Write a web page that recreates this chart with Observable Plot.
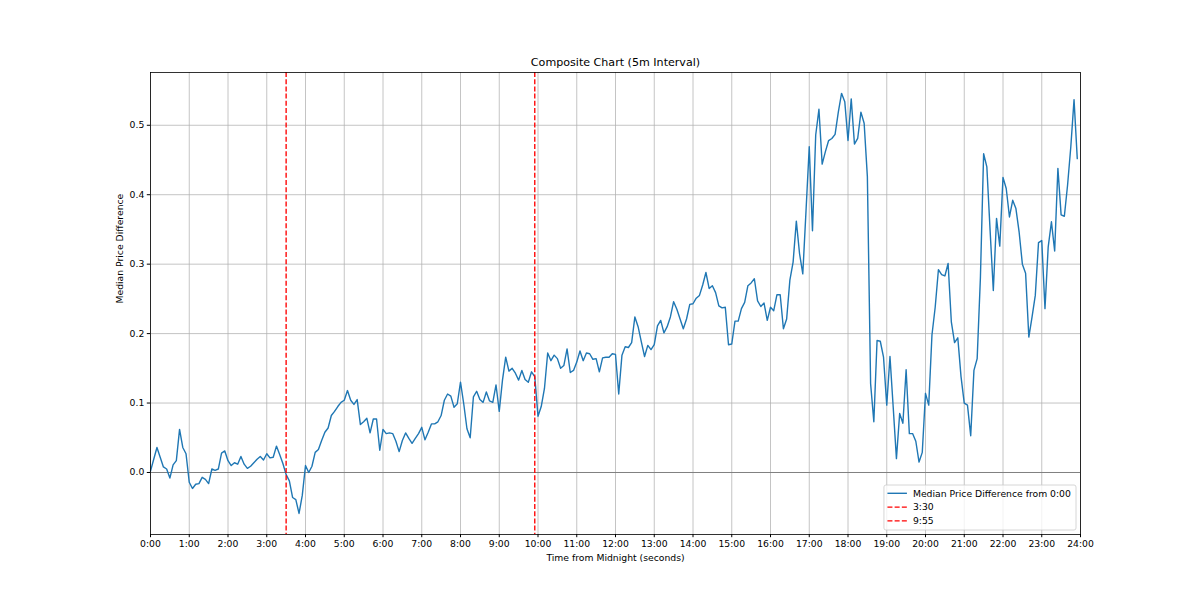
<!DOCTYPE html>
<html>
<head>
<meta charset="utf-8">
<script src="https://cdn.jsdelivr.net/npm/d3@7"></script>
<script src="https://cdn.jsdelivr.net/npm/@observablehq/plot@0.6"></script>
<style>
  html, body { margin: 0; padding: 0; background: white; }
  #chart { width: 1200px; height: 600px; position: relative; }
</style>
</head>
<body>
<div id="chart"></div>
<script>
// Median price difference from 0:00, one value per 5-minute interval (0:00 .. 23:55)
const values = [
  0.002, 0.019, 0.036, 0.022, 0.008, 0.005, -0.008, 0.011, 0.017, 0.062, 0.036, 0.027,
  -0.014, -0.023, -0.017, -0.016, -0.007, -0.010, -0.016, 0.005, 0.003, 0.005, 0.028, 0.031,
  0.017, 0.010, 0.014, 0.012, 0.023, 0.012, 0.006, 0.009, 0.014, 0.019, 0.023, 0.018,
  0.027, 0.021, 0.022, 0.038, 0.026, 0.013, -0.003, -0.012, -0.036, -0.039, -0.059, -0.033,
  0.010, 0.000, 0.009, 0.029, 0.033, 0.046, 0.058, 0.064, 0.082, 0.088, 0.095, 0.101,
  0.104, 0.118, 0.104, 0.098, 0.105, 0.069, 0.073, 0.078, 0.057, 0.077, 0.077, 0.032,
  0.062, 0.056, 0.057, 0.056, 0.045, 0.030, 0.046, 0.057, 0.049, 0.042, 0.049, 0.056,
  0.065, 0.047, 0.058, 0.070, 0.070, 0.073, 0.082, 0.104, 0.113, 0.110, 0.094, 0.099,
  0.130, 0.099, 0.063, 0.050, 0.109, 0.117, 0.105, 0.101, 0.116, 0.103, 0.101, 0.126,
  0.088, 0.133, 0.166, 0.146, 0.150, 0.143, 0.133, 0.147, 0.134, 0.130, 0.145, 0.138,
  0.081, 0.095, 0.121, 0.172, 0.161, 0.169, 0.164, 0.150, 0.154, 0.178, 0.144, 0.147,
  0.159, 0.175, 0.161, 0.172, 0.171, 0.163, 0.164, 0.145, 0.165, 0.166, 0.166, 0.171,
  0.170, 0.113, 0.169, 0.181, 0.180, 0.187, 0.224, 0.210, 0.188, 0.167, 0.183, 0.177,
  0.184, 0.211, 0.219, 0.201, 0.210, 0.224, 0.246, 0.235, 0.221, 0.207, 0.221, 0.242,
  0.243, 0.251, 0.255, 0.270, 0.288, 0.265, 0.269, 0.259, 0.240, 0.237, 0.238, 0.184,
  0.185, 0.218, 0.218, 0.236, 0.245, 0.269, 0.273, 0.279, 0.247, 0.239, 0.244, 0.219,
  0.238, 0.233, 0.256, 0.256, 0.207, 0.221, 0.277, 0.303, 0.362, 0.315, 0.286, 0.377,
  0.469, 0.348, 0.486, 0.523, 0.444, 0.462, 0.478, 0.481, 0.487, 0.519, 0.546, 0.534,
  0.478, 0.538, 0.473, 0.481, 0.519, 0.503, 0.426, 0.128, 0.073, 0.190, 0.189, 0.166,
  0.097, 0.167, 0.094, 0.020, 0.085, 0.071, 0.148, 0.056, 0.056, 0.045, 0.015, 0.029,
  0.114, 0.097, 0.198, 0.238, 0.292, 0.285, 0.283, 0.301, 0.217, 0.187, 0.194, 0.138,
  0.100, 0.097, 0.053, 0.147, 0.164, 0.280, 0.459, 0.440, 0.349, 0.262, 0.366, 0.326,
  0.425, 0.409, 0.368, 0.392, 0.380, 0.346, 0.300, 0.287, 0.195, 0.224, 0.255, 0.331,
  0.334, 0.236, 0.325, 0.361, 0.319, 0.438, 0.371, 0.369, 0.414, 0.469, 0.537, 0.452
];
const intervalSeconds = 300;
const hourTicks = d3.range(0, 24 * 3600 + 1, 3600);
const yTicks = [0, 0.1, 0.2, 0.3, 0.4, 0.5];
const markerTimes = [12600, 35700];
const markerLabels = ["3:30", "9:55"];
const seriesLabel = "Median Price Difference from 0:00";
const titleText = "Composite Chart (5m Interval)";
const xLabel = "Time from Midnight (seconds)";
const yLabel = "Median Price Difference";

const data = values.map((v, i) => ({t: i * intervalSeconds, v}));
const markers = markerTimes.map((t, i) => ({t, label: markerLabels[i]}));

const FONT = "DejaVu Sans, sans-serif";
const fs = 9.25;

const plot = Plot.plot({
  width: 1200,
  height: 600,
  marginLeft: 150,
  marginRight: 120,
  marginTop: 72,
  marginBottom: 66,
  style: {fontFamily: FONT, fontSize: fs + "px", background: "white", color: "black", overflow: "visible"},
  x: {
    domain: [0, 86400],
    ticks: hourTicks,
    tickFormat: d => `${d / 3600}:00`,
    tickSize: 3.2,
    tickPadding: 2.6,
    label: null
  },
  y: {
    domain: [-0.0893, 0.576],
    ticks: yTicks,
    tickFormat: d3.format(".1f"),
    tickSize: 3.2,
    tickPadding: 3,
    label: null
  },
  marks: [
    Plot.ruleX(hourTicks, {stroke: "#b0b0b0", strokeWidth: 0.75}),
    Plot.ruleY(yTicks, {stroke: "#b0b0b0", strokeWidth: 0.75}),
    Plot.ruleY([0], {stroke: "#808080", strokeWidth: 1}),
    Plot.line(data, {x: "t", y: "v", stroke: "#1f77b4", strokeWidth: 1.4}),
    Plot.ruleX(markers, {x: "t", stroke: "#ff0000", strokeWidth: 1.35, strokeDasharray: "5,2.2"}),
    Plot.frame({stroke: "black", strokeWidth: 0.8}),
    Plot.text([titleText], {text: d => d, frameAnchor: "top", dy: -10, fontSize: 11.1, lineAnchor: "middle", fill: "black"}),
    Plot.text([xLabel], {text: d => d, frameAnchor: "bottom", dy: 23.5, lineAnchor: "middle", fill: "black"}),
    Plot.text([yLabel], {text: d => d, frameAnchor: "left", dx: -30, rotate: -90, lineAnchor: "middle", fill: "black"})
  ]
});

document.getElementById("chart").appendChild(plot);

// Legend (lower right, matplotlib style)
const svg = d3.select(plot);
const lg = svg.append("g").attr("font-family", FONT).attr("font-size", fs).attr("text-anchor", "start");
const entries = [
  {label: seriesLabel, color: "#1f77b4", dash: null},
  {label: markers[0].label, color: "#ff0000", dash: "5,2.2"},
  {label: markers[1].label, color: "#ff0000", dash: "5,2.2"}
];
const rect = lg.append("rect")
  .attr("x", 884).attr("y", 485).attr("width", 192).attr("height", 45)
  .attr("rx", 2).attr("fill", "white").attr("fill-opacity", 0.8)
  .attr("stroke", "#cccccc").attr("stroke-width", 0.8);
let maxRight = 0;
entries.forEach((e, i) => {
  const y = 493.3 + i * 13.8;
  lg.append("line").attr("x1", 887.5).attr("x2", 907).attr("y1", y).attr("y2", y)
    .attr("stroke", e.color).attr("stroke-width", 1.4)
    .attr("stroke-dasharray", e.dash);
  const t = lg.append("text").attr("x", 913).attr("y", y).attr("dy", "0.35em")
    .attr("text-anchor", "start").attr("fill", "black").text(e.label);
  const bb = t.node().getBBox();
  maxRight = Math.max(maxRight, bb.x + bb.width);
});
// fit box to text, keep right edge anchored near the frame
const right = 1075;
const shift = Math.max(0, maxRight + 4 - right);
if (shift > 0) {
  lg.selectAll("line, text").attr("transform", `translate(${-shift},0)`);
  rect.attr("x", 884 - shift).attr("width", 192 + shift - (0));
}
</script>
</body>
</html>
